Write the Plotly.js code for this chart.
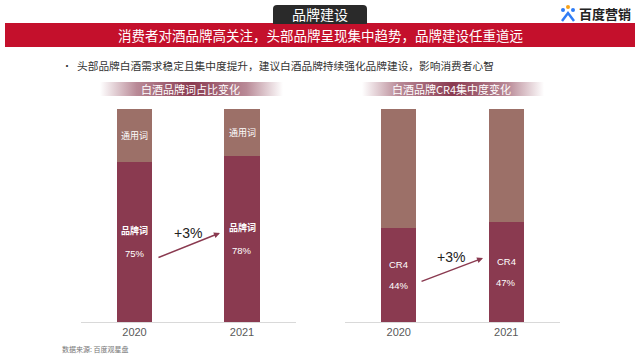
<!DOCTYPE html>
<html><head><meta charset="utf-8">
<script src="https://cdn.plot.ly/plotly-3.0.1.min.js"></script>
<style>html,body{margin:0;padding:0;background:#fff}#c{width:640px;height:360px}</style>
</head><body><div id="c"></div>
<script>
const years = ['2020', '2021'];
const brandShare = [75, 78];
const genericShare = [25, 22];
const cr4Share = [44, 47];
const cr4Rest = [56, 53];
const brandLabel = '品牌词';
const genericLabel = '通用词';
const cr4Label = 'CR4';
const changeLabel = '+3%';

const MAROON = '#8a3a50';
const BROWN = '#9c7068';
const CJK = '"Noto Sans CJK SC", "Liberation Sans", sans-serif';
const NUM = '"Liberation Sans", Arial, sans-serif';

const traces = [
  {type:'bar', x:years, y:brandShare, marker:{color:MAROON}, width:0.33, xaxis:'x', yaxis:'y', hoverinfo:'skip'},
  {type:'bar', x:years, y:genericShare, marker:{color:BROWN}, width:0.33, xaxis:'x', yaxis:'y', hoverinfo:'skip'},
  {type:'bar', x:years, y:cr4Share, marker:{color:MAROON}, width:0.33, xaxis:'x2', yaxis:'y2', hoverinfo:'skip'},
  {type:'bar', x:years, y:cr4Rest, marker:{color:BROWN}, width:0.33, xaxis:'x2', yaxis:'y2', hoverinfo:'skip'}
];

const ann = [];
const A = (o) => Object.assign({showarrow:false, xanchor:'center', yanchor:'middle'}, o);
years.forEach((yr, i) => {
  ann.push(A({xref:'x', yref:'y', x:i, y:brandShare[i] + genericShare[i]/2, text:genericLabel, font:{family:CJK, size:9, color:'#fff'}}));
  ann.push(A({xref:'x', yref:'y', x:i, y:brandShare[i]/2 + 5.5, text:'<b>' + brandLabel + '</b>', font:{family:CJK, size:9, color:'#fff'}}));
  ann.push(A({xref:'x', yref:'y', x:i, y:brandShare[i]/2 - 5.2, text:brandShare[i] + '%', font:{family:NUM, size:9.5, color:'#fff'}}));
  ann.push(A({xref:'x2', yref:'y2', x:i, y:cr4Share[i]/2 + 5, text:cr4Label, font:{family:NUM, size:9.5, color:'#fff'}}));
  ann.push(A({xref:'x2', yref:'y2', x:i, y:cr4Share[i]/2 - 5, text:cr4Share[i] + '%', font:{family:NUM, size:9.5, color:'#fff'}}));
});
// arrows
ann.push({xref:'x', yref:'y', axref:'x', ayref:'y', x:0.795, y:41.8, ax:0.209, ay:30.0, text:'', showarrow:true, arrowhead:2, arrowsize:0.8, arrowwidth:1.5, arrowcolor:MAROON});
ann.push({xref:'x2', yref:'y2', axref:'x2', ayref:'y2', x:0.784, y:30.0, ax:0.198, ay:18.8, text:'', showarrow:true, arrowhead:2, arrowsize:0.8, arrowwidth:1.5, arrowcolor:MAROON});
ann.push(A({xref:'x', yref:'y', x:0.5, y:41.8, text:changeLabel, font:{family:NUM, size:14, color:'#222'}}));
ann.push(A({xref:'x2', yref:'y2', x:0.49, y:30.5, text:changeLabel, font:{family:NUM, size:14, color:'#222'}}));

// header texts (paper coords)
const px = (x) => x/640, py = (y) => 1 - y/360;
ann.push(A({xref:'paper', yref:'paper', x:px(320), y:py(14.5), text:'品牌建设', font:{family:CJK, size:14, color:'#fff'}}));
ann.push(A({xref:'paper', yref:'paper', x:px(320), y:py(35), text:'消费者对酒品牌高关注，头部品牌呈现集中趋势，品牌建设任重道远', font:{family:CJK, size:13.5, color:'#fff'}}));
ann.push(A({xref:'paper', yref:'paper', x:px(60), y:py(65), xanchor:'left', text:'•', font:{family:CJK, size:10, color:'#333'}}));
ann.push(A({xref:'paper', yref:'paper', x:px(75), y:py(65), xanchor:'left', text:'头部品牌白酒需求稳定且集中度提升，建议白酒品牌持续强化品牌建设，影响消费者心智', font:{family:CJK, size:10.7, color:'#333'}}));
ann.push(A({xref:'paper', yref:'paper', x:px(190), y:py(89), text:'白酒品牌词占比变化', font:{family:CJK, size:11, color:'#fff'}}));
ann.push(A({xref:'paper', yref:'paper', x:px(451), y:py(89), text:'白酒品牌CR4集中度变化', font:{family:CJK, size:11, color:'#fff'}}));
ann.push(A({xref:'paper', yref:'paper', x:px(60), y:py(349), xanchor:'left', text:'数据来源: 百度观星盘', font:{family:CJK, size:7, color:'#777'}}));
ann.push(A({xref:'paper', yref:'paper', x:px(577), y:py(14), xanchor:'left', text:'<b>百度营销</b>', font:{family:CJK, size:13, color:'#222'}}));

const shapes = [
  {type:'rect', xref:'paper', yref:'paper', x0:px(5), x1:px(635), y0:py(23), y1:py(47), fillcolor:'#c4102c', line:{width:0}},
  {type:'path', xref:'paper', yref:'paper', path:'', line:{width:0}},
  {type:'circle', xref:'paper', yref:'paper', x0:px(561), x1:px(565), y0:py(8), y1:py(12), fillcolor:'#2f7cf6', line:{width:0}},
  {type:'circle', xref:'paper', yref:'paper', x0:px(566), x1:px(570), y0:py(5), y1:py(9), fillcolor:'#f7a21b', line:{width:0}},
  {type:'circle', xref:'paper', yref:'paper', x0:px(571), x1:px(575), y0:py(8), y1:py(12), fillcolor:'#2f7cf6', line:{width:0}},
  {type:'path', xref:'paper', yref:'paper', path:`M ${px(562)},${py(21)} L ${px(568)},${py(13)} L ${px(574)},${py(21)}`, line:{color:'#2f7cf6', width:2.5}}
];
(function(){
  const x0=273, x1=367, y0=5, y1=24, r=4;
  const P=(x,y)=>`${px(x)},${py(y)}`;
  shapes[1] = {type:'path', xref:'paper', yref:'paper', fillcolor:'#2a2a2a', line:{width:0},
    path:`M ${P(x0,y1)} L ${P(x0,y0+r)} Q ${P(x0,y0)} ${P(x0+r,y0)} L ${P(x1-r,y0)} Q ${P(x1,y0)} ${P(x1,y0+r)} L ${P(x1,y1)} Z`};
})();

const grad = 'data:image/svg+xml;charset=utf-8,' + encodeURIComponent(
  '<svg xmlns="http://www.w3.org/2000/svg" width="200" height="20" preserveAspectRatio="none" viewBox="0 0 200 20">' +
  '<defs><linearGradient id="g" x1="0" x2="1" y1="0" y2="0">' +
  '<stop offset="0" stop-color="#ffffff"/><stop offset="0.2" stop-color="#b98a97"/>' +
  '<stop offset="0.5" stop-color="#8a3a50"/><stop offset="0.8" stop-color="#b98a97"/><stop offset="1" stop-color="#ffffff"/>' +
  '</linearGradient></defs><rect width="200" height="20" fill="url(#g)"/></svg>');

const images = [
  {source:grad, xref:'paper', yref:'paper', x:px(100), y:py(82), sizex:px(183), sizey:14/360, sizing:'stretch', xanchor:'left', yanchor:'top', layer:'below'},
  {source:grad, xref:'paper', yref:'paper', x:px(362), y:py(82), sizex:px(182), sizey:14/360, sizing:'stretch', xanchor:'left', yanchor:'top', layer:'below'}
];

const axisCommon = {type:'category', range:[-0.5,1.5], showgrid:false, zeroline:false, showline:true, linecolor:'#d9d9d9', linewidth:1, ticks:'', tickfont:{family:NUM, size:11, color:'#595959'}, fixedrange:true};
const yCommon = {range:[0,100], showgrid:false, zeroline:false, showline:false, showticklabels:false, domain:[1-322/360, 1-109/360], fixedrange:true};

const layout = {
  width:640, height:360, margin:{l:0,r:0,t:0,b:0}, paper_bgcolor:'#fff', plot_bgcolor:'rgba(0,0,0,0)',
  barmode:'stack', showlegend:false,
  xaxis:Object.assign({}, axisCommon, {domain:[80.75/640, 295.75/640], anchor:'y'}),
  yaxis:Object.assign({}, yCommon, {anchor:'x'}),
  xaxis2:Object.assign({}, axisCommon, {domain:[345/640, 560/640], anchor:'y2'}),
  yaxis2:Object.assign({}, yCommon, {anchor:'x2'}),
  annotations:ann, shapes:shapes, images:images
};
Plotly.newPlot('c', traces, layout, {displayModeBar:false, staticPlot:true});
</script></body></html>
